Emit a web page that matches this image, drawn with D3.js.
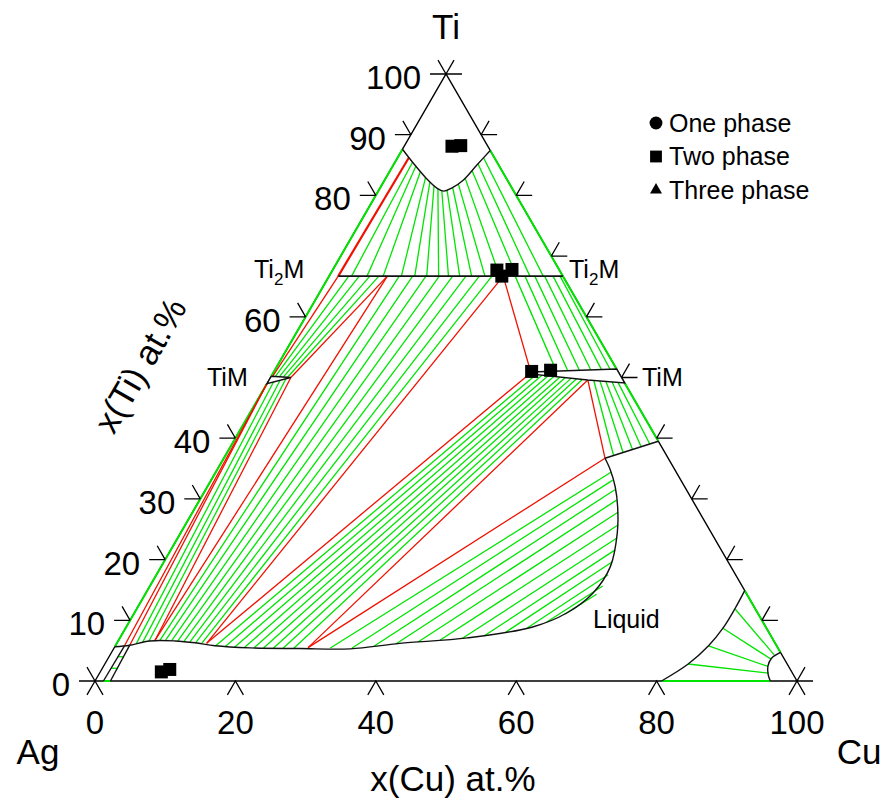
<!DOCTYPE html>
<html>
<head>
<meta charset="utf-8">
<script src="https://cdn.jsdelivr.net/npm/d3@7"></script>
<style>
  body { margin: 0; background: #fff; }
  text { font-family: "Liberation Sans", Arial, Helvetica, sans-serif; fill: #000; }
</style>
</head>
<body>
<svg id="chart" width="890" height="798"></svg>
<script>
// Ag-Cu-Ti isothermal section. Every composition is [x(Cu), x(Ti)] in at.%.

// ---- axis ticks ----
const leftTicks = [0, 10, 20, 30, 40, 60, 80, 90, 100];
const rightTicks = [0, 10, 20, 30, 40, 50, 60, 70, 80, 90, 100];
const bottomTicks = [0, 20, 40, 60, 80, 100];
const leftTickLabels = [0, 10, 20, 30, 40, 60, 80, 90, 100];
const bottomTickLabels = [0, 20, 40, 60, 80, 100];

// ---- phase boundaries ----
const bccBoundary = [[0,87.6],[2.7,85.3],[5.8,82.8],[8.1,81.2],[9.3,80.7],[10.2,81.2],[11.2,82.5],[11.9,85.0],[12.6,87.4]];
const ti2mLine = [[1.3,66.7],[33.3,66.7]];
const timLeft = [[0,50.2],[2.9,50.0],[0,49.0]];
const timRight = [[36.7,50.9],[48.6,51.4],[50.9,49.1],[45.4,49.6],[36.7,50.6]];
const liquidBoundary = [[0,5.65],[2.0,5.9],[4.5,6.6],[8.1,6.6],[11.1,6.3],[14.2,5.8],[19.4,5.45],[26.5,5.35],[33.7,5.3],[40.3,6.2],[49.5,7.1],[57.9,8.9],[61.6,11.2],[63.7,14.5],[64.0,18.8],[62.2,24.4],[60.1,28.7],[58.1,32.0],[56.0,34.8],[54.3,36.7]];
const liquidTiMEdge = [[54.3,36.7],[60.5,39.5]];
const cuLiquidus = [[85.1,14.9],[85.2,11.9],[85.1,8.7],[84.5,5.8],[83.1,2.8],[80.7,0]];
const cuSolvus = [[95.3,4.7],[94.5,3.7],[94.65,2.4],[95.4,1.0],[96.2,0]];
const agSolvus = [[1.2,0],[1.3,5.8]];
const agLiquidus = [[2.2,0],[2.0,5.9]];

// ---- binary edges lying in two-phase fields ----
const greenEdges = [
  [[0,87.6],[0,50.2]],
  [[0,49.0],[0,5.65]],
  [[12.6,87.4],[48.6,51.4]],
  [[50.9,49.1],[60.5,39.5]],
  [[85.1,14.9],[95.3,4.7]],
  [[80.7,0],[96.2,0]],
  [[1.2,0],[2.2,0]]
];

// ---- three-phase triangle edges ----
const threePhaseEdges = [
  [[1.3,66.7],[0.2,50.2]],
  [[8.3,66.7],[2.9,50.0]],
  [[8.3,66.7],[5.2,6.6]],
  [[2.9,50.0],[5.2,6.6]],
  [[0,49.0],[1.3,5.8]],
  [[0,49.0],[2.0,5.9]],
  [[24.8,66.7],[12.8,6.2]],
  [[24.8,66.7],[36.7,50.8]],
  [[36.7,50.8],[12.8,6.2]],
  [[27.6,5.5],[45.4,49.6]],
  [[27.6,5.5],[54.3,36.7]],
  [[45.4,49.6],[54.3,36.7]]
];
// bcc / Ti2M tie triangle edge near the Ag-Ti side, drawn heavier
const bccTi2mEdge = [[1.6,86.2],[1.3,66.7]];

// ---- tie lines ----
const bccTi2mTies = [
  [[2.5,85.5],[3.2,66.7]], [[3.3,84.8],[5.4,66.7]], [[4.4,83.9],[7.7,66.7]],
  [[5.6,83.0],[10.3,66.7]], [[6.6,82.2],[12.2,66.7]], [[7.5,81.6],[13.9,66.7]],
  [[8.3,81.1],[15.6,66.7]], [[9.0,80.8],[17.0,66.7]], [[9.7,80.9],[18.6,66.7]],
  [[10.3,81.3],[20.3,66.7]], [[10.8,81.9],[22.2,66.7]], [[11.3,82.85],[24.3,66.7]],
  [[11.65,84.1],[26.7,66.7]], [[11.95,85.2],[28.6,66.7]], [[12.25,86.2],[30.5,66.7]]
];
const ti2mTiMLeftTies = [
  [[2.8,66.7],[0.6,50.15]], [[4.3,66.7],[1.2,50.1]], [[5.8,66.7],[1.8,50.1]], [[7.1,66.7],[2.4,50.05]]
];
const liqTiMLeftTies = [
  [[2.8,6.2],[0.8,49.3]], [[3.6,6.4],[1.6,49.55]], [[4.4,6.55],[2.3,49.8]]
];
const liqTi2mTies = [
  [[5.9,6.6],[10.0,66.7]], [[6.7,6.6],[11.9,66.7]], [[7.6,6.6],[13.8,66.7]],
  [[8.5,6.6],[15.7,66.7]], [[9.4,6.5],[17.6,66.7]], [[10.3,6.45],[19.5,66.7]],
  [[11.2,6.35],[21.4,66.7]], [[12.1,6.25],[23.2,66.7]]
];
const ti2mTiMRightTies = [
  [[26.5,66.7],[40.2,51.05]], [[27.9,66.7],[41.8,51.1]], [[29.3,66.7],[43.4,51.2]],
  [[30.7,66.7],[45.0,51.25]], [[31.9,66.7],[46.5,51.3]], [[32.9,66.7],[47.7,51.35]]
];
const liqTiMRightTies = [
  [[14.3,5.8],[37.6,50.5]], [[15.7,5.65],[38.5,50.4]], [[17.1,5.55],[39.4,50.3]],
  [[18.5,5.48],[40.3,50.2]], [[19.9,5.45],[41.2,50.1]], [[21.3,5.42],[42.0,50.0]],
  [[22.7,5.4],[42.9,49.9]], [[24.1,5.38],[43.7,49.8]], [[25.6,5.36],[44.6,49.7]]
];
const twoLiquidTies = [
  [[30.8,5.44],[56.3,34.4]], [[33.9,5.44],[57.2,33.1]], [[36.9,5.77],[58.3,31.5]],
  [[39.8,6.1],[59.4,29.8]], [[42.8,6.43],[60.6,27.8]], [[45.8,6.75],[61.65,25.7]],
  [[48.8,7.0],[62.6,23.6]], [[51.7,7.41],[63.3,21.6]], [[54.5,8.07],[63.85,19.6]],
  [[57.2,8.73],[64.35,17.5]], [[59.5,9.72],[64.5,15.65]], [[61.4,11.0],[64.3,14.3]]
];
const timLiqRightTies = [
  [[46.3,49.5],[55.3,37.15]], [[47.2,49.45],[56.4,37.65]], [[48.1,49.35],[57.5,38.15]],
  [[49.0,49.3],[58.5,38.6]], [[49.9,49.2],[59.5,39.05]]
];
const cuLiqTies = [
  [[83.1,2.8],[95.3,1.3]], [[84.5,5.8],[94.65,2.4]], [[85.1,8.7],[94.5,3.6]], [[85.2,11.9],[94.6,4.3]]
];
const agLiqTies = [
  [[1.25,2.1],[2.15,2.1]], [[1.27,4.0],[2.1,4.0]]
];

// ---- measured alloys ----
const twoPhasePoints = [[6.8,88.1],[8.0,88.2],[23.4,67.7],[25.5,67.8],[24.6,66.7],[36.7,51.0],[39.3,51.2],[8.7,1.5],[9.7,1.9]];

// ---- legend ----
const legendItems = [
  { label: "One phase", symbol: d3.symbolCircle, size: 130 },
  { label: "Two phase", symbol: d3.symbolSquare, size: 140 },
  { label: "Three phase", symbol: d3.symbolTriangle, size: 62 }
];

// ---- scales: triangle with Ag bottom-left, Cu bottom-right, Ti on top ----
const sx = d3.scaleLinear().domain([0, 100]).range([95, 797]);
const sy = d3.scaleLinear().domain([0, 100]).range([681, 74]);
const P = ([c, t]) => [sx(c + t / 2), sy(t)];

const svg = d3.select("#chart");
const straight = d3.line().x(d => P(d)[0]).y(d => P(d)[1]);
const smooth = d3.line().x(d => P(d)[0]).y(d => P(d)[1]).curve(d3.curveCatmullRom.alpha(0.5));

const GREEN = "#00e400", RED = "#ee1100";

const gTies = svg.append("g").attr("fill", "none").attr("stroke", GREEN).attr("stroke-width", 1.3);
[bccTi2mTies, ti2mTiMLeftTies, liqTiMLeftTies, liqTi2mTies, ti2mTiMRightTies,
 liqTiMRightTies, twoLiquidTies, timLiqRightTies, cuLiqTies, agLiqTies].forEach(set => {
  gTies.selectAll(null).data(set).join("path").attr("d", straight);
});

// triangle outline
const outline = [[0,0],[100,0],[0,100],[0,0]];
svg.append("path").attr("d", straight(outline)).attr("fill", "none")
  .attr("stroke", "#000").attr("stroke-width", 1.4);

svg.append("g").attr("fill", "none").attr("stroke", GREEN).attr("stroke-width", 2)
  .selectAll("path").data(greenEdges).join("path").attr("d", straight);

const gR = svg.append("g").attr("fill", "none").attr("stroke", RED).attr("stroke-width", 1.3);
gR.selectAll("path").data(threePhaseEdges).join("path").attr("d", straight);
gR.append("path").attr("d", straight(bccTi2mEdge)).attr("stroke-width", 2.2);

// black phase boundaries
const gB = svg.append("g").attr("fill", "none").attr("stroke", "#111").attr("stroke-width", 1.4);
gB.append("path").attr("d", smooth(bccBoundary));
gB.append("path").attr("d", straight(ti2mLine)).attr("stroke-width", 1.6);
gB.append("path").attr("d", smooth(liquidBoundary));
gB.append("path").attr("d", straight(liquidTiMEdge));
gB.append("path").attr("d", smooth(cuLiquidus));
gB.append("path").attr("d", smooth(cuSolvus));
gB.append("path").attr("d", straight(agSolvus));
gB.append("path").attr("d", straight(agLiquidus));
gB.append("path").attr("d", straight([...timLeft, timLeft[0]])).attr("fill", "#fff");
gB.append("path").attr("d", straight([...timRight, timRight[0]])).attr("fill", "#fff");

// ---- ticks ----
const TL = 16, cs = Math.cos(Math.PI / 3), sn = Math.sin(Math.PI / 3);
const gT = svg.append("g").attr("stroke", "#000").attr("stroke-width", 1.3).attr("fill", "none");
leftTicks.forEach(v => {
  const [x, y] = P([0, v]);
  gT.append("path").attr("d", `M${x},${y}H${x - TL}M${x},${y}L${x - TL * cs},${y - TL * sn}`);
});
rightTicks.forEach(v => {
  const [x, y] = P([100 - v, v]);
  gT.append("path").attr("d", `M${x},${y}H${x + TL}M${x},${y}L${x + TL * cs},${y - TL * sn}`);
});
bottomTicks.forEach(v => {
  const [x, y] = P([v, 0]);
  gT.append("path").attr("d", `M${x - TL * cs},${y + TL * sn}L${x},${y}L${x + TL * cs},${y + TL * sn}`);
});

const gL = svg.append("g").attr("font-size", 33);
leftTickLabels.forEach(v => {
  const [x, y] = P([0, v]);
  gL.append("text").attr("x", x - TL - 9).attr("y", y + 15).attr("text-anchor", "end").text(v);
});
bottomTickLabels.forEach(v => {
  const [x, y] = P([v, 0]);
  gL.append("text").attr("x", x).attr("y", y + 53).attr("text-anchor", "middle").text(v);
});

// corner and axis titles
const gTitle = svg.append("g").attr("font-size", 35);
gTitle.append("text").attr("x", sx(50)).attr("y", 39).attr("text-anchor", "middle").text("Ti");
gTitle.append("text").attr("x", 38).attr("y", 764).attr("text-anchor", "middle").text("Ag");
gTitle.append("text").attr("x", 859).attr("y", 764).attr("text-anchor", "middle").text("Cu");
gTitle.append("text").attr("x", 453).attr("y", 791).attr("text-anchor", "middle").text("x(Cu) at.%");
gTitle.append("text").attr("transform", "translate(140,365) rotate(-60)")
  .attr("text-anchor", "middle").attr("dominant-baseline", "central").text("x(Ti) at.%");

// phase labels
const gP = svg.append("g").attr("font-size", 25);
function ti2m(x, y) {
  const t = gP.append("text").attr("x", x).attr("y", y);
  t.append("tspan").text("Ti");
  t.append("tspan").attr("font-size", 17).attr("dy", 7).text("2");
  t.append("tspan").attr("dy", -7).text("M");
}
ti2m(254, 278);
ti2m(569, 278);
gP.append("text").attr("x", 207).attr("y", 386).text("TiM");
gP.append("text").attr("x", 642).attr("y", 386).text("TiM");
gP.append("text").attr("x", 593).attr("y", 628).text("Liquid");

// measured two-phase alloys
svg.append("g").selectAll("path").data(twoPhasePoints).join("path")
  .attr("transform", d => `translate(${P(d)[0]},${P(d)[1]})`)
  .attr("d", d3.symbol(d3.symbolSquare, 169)).attr("fill", "#000");

// legend
const gLeg = svg.append("g").attr("transform", "translate(656,123)");
legendItems.forEach((it, i) => {
  const row = gLeg.append("g").attr("transform", `translate(0,${i * 33.5})`);
  row.append("path").attr("d", d3.symbol(it.symbol, it.size)).attr("fill", "#000");
  row.append("text").attr("x", 13).attr("y", 8.5).attr("font-size", 25).text(it.label);
});
</script>
</body>
</html>
